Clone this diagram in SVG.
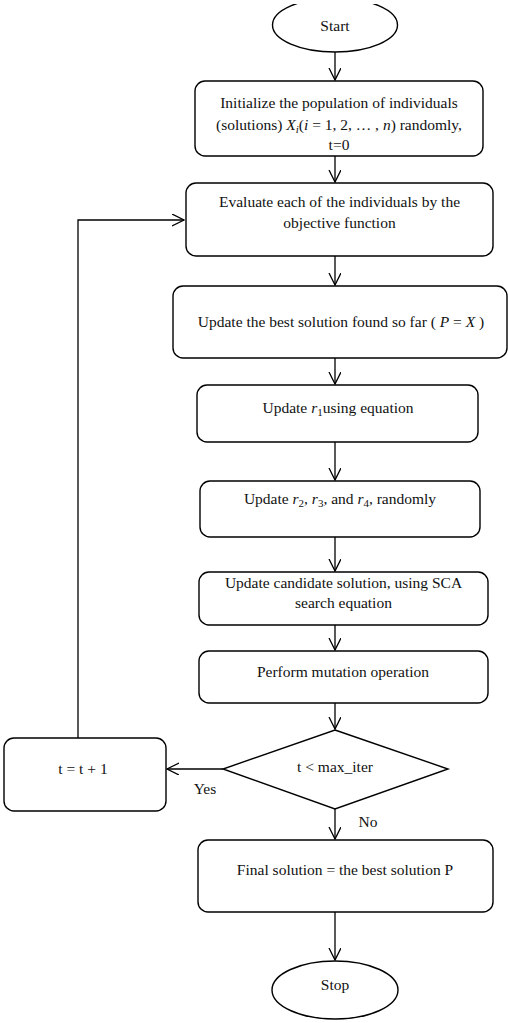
<svg xmlns="http://www.w3.org/2000/svg" width="508" height="1023" viewBox="0 0 508 1023">
<style>
.n{fill:#fff;stroke:#000;stroke-width:1.4}
.t{font-family:"Liberation Serif","Times New Roman",serif;font-size:15.5px;fill:#111;text-anchor:middle}
.i{font-style:italic}
.c{fill:none;stroke:#000;stroke-width:1.3}
</style>
<defs>
<marker id="a" markerUnits="userSpaceOnUse" markerWidth="14" markerHeight="14" refX="12" refY="6" orient="auto">
<path d="M0,0 L12,6 L0,12" fill="none" stroke="#000" stroke-width="1.3"/>
</marker>
<clipPath id="top"><rect x="0" y="4" width="508" height="1019"/></clipPath>
</defs>
<g id="connectors">
<line class="c" x1="335" y1="52" x2="335" y2="80" marker-end="url(#a)"/>
<line class="c" x1="335" y1="156" x2="335" y2="182" marker-end="url(#a)"/>
<line class="c" x1="335" y1="256" x2="335" y2="285" marker-end="url(#a)"/>
<line class="c" x1="335" y1="358" x2="335" y2="384" marker-end="url(#a)"/>
<line class="c" x1="335" y1="442" x2="335" y2="480" marker-end="url(#a)"/>
<line class="c" x1="335" y1="537" x2="335" y2="571" marker-end="url(#a)"/>
<line class="c" x1="335" y1="625" x2="335" y2="650" marker-end="url(#a)"/>
<line class="c" x1="335" y1="703" x2="335" y2="729" marker-end="url(#a)"/>
<line class="c" x1="223" y1="769" x2="167" y2="769" marker-end="url(#a)"/>
<polyline class="c" points="78,738 78,220 184,220" marker-end="url(#a)"/>
<line class="c" x1="335" y1="809" x2="335" y2="839" marker-end="url(#a)"/>
<line class="c" x1="335" y1="912" x2="335" y2="960" marker-end="url(#a)"/>
<text class="t" x="205" y="794">Yes</text>
<text class="t" x="368" y="827">No</text>
</g>
<g id="start">
<ellipse class="n" cx="335" cy="25" rx="62.5" ry="27" clip-path="url(#top)"/>
<text class="t" x="335" y="31">Start</text>
</g>
<g id="init">
<rect class="n" x="195" y="81" width="288" height="75" rx="10"/>
<text class="t" x="339" y="108">Initialize the population of individuals</text>
<text class="t" x="339" y="130">(solutions) <tspan class="i">X</tspan><tspan class="i" dy="3" font-size="11px">i</tspan><tspan dy="-3">(</tspan><tspan class="i">i</tspan> = 1, 2, … , <tspan class="i">n</tspan>) randomly,</text>
<text class="t" x="339" y="150">t=0</text>
</g>
<g id="evaluate">
<rect class="n" x="186" y="183" width="307" height="73" rx="10"/>
<text class="t" x="339.5" y="207">Evaluate each of the individuals by the</text>
<text class="t" x="339.5" y="228">objective function</text>
</g>
<g id="best">
<rect class="n" x="173" y="286" width="334" height="72" rx="10"/>
<text class="t" x="341" y="327">Update the best solution found so far ( <tspan class="i">P</tspan> = <tspan class="i">X</tspan> )</text>
</g>
<g id="r1">
<rect class="n" x="197" y="385" width="281" height="57" rx="10"/>
<text class="t" x="338" y="413">Update <tspan class="i">r</tspan><tspan dy="3" font-size="11px">1</tspan><tspan dy="-3">using equation</tspan></text>
</g>
<g id="r234">
<rect class="n" x="200" y="481" width="280" height="56" rx="10"/>
<text class="t" x="340" y="504">Update <tspan class="i">r</tspan><tspan dy="3" font-size="11px">2</tspan><tspan dy="-3">, </tspan><tspan class="i">r</tspan><tspan dy="3" font-size="11px">3</tspan><tspan dy="-3">, and </tspan><tspan class="i">r</tspan><tspan dy="3" font-size="11px">4</tspan><tspan dy="-3">, randomly</tspan></text>
</g>
<g id="candidate">
<rect class="n" x="199" y="572" width="289" height="53" rx="10"/>
<text class="t" x="343.5" y="588">Update candidate solution, using SCA</text>
<text class="t" x="343.5" y="608">search equation</text>
</g>
<g id="mutation">
<rect class="n" x="199" y="651" width="289" height="52" rx="10"/>
<text class="t" x="343" y="677">Perform mutation operation</text>
</g>
<g id="decision">
<polygon class="n" points="335,730 448,769 335,809 223,769"/>
<text class="t" x="335" y="772">t &lt; max_iter</text>
</g>
<g id="increment">
<rect class="n" x="4" y="738" width="162" height="73" rx="10"/>
<text class="t" x="83" y="774">t = t + 1</text>
</g>
<g id="final">
<rect class="n" x="198" y="840" width="295" height="72" rx="10"/>
<text class="t" x="345" y="875">Final solution = the best solution P</text>
</g>
<g id="stop">
<ellipse class="n" cx="335" cy="990" rx="63" ry="29"/>
<text class="t" x="335" y="990">Stop</text>
</g>
</svg>
